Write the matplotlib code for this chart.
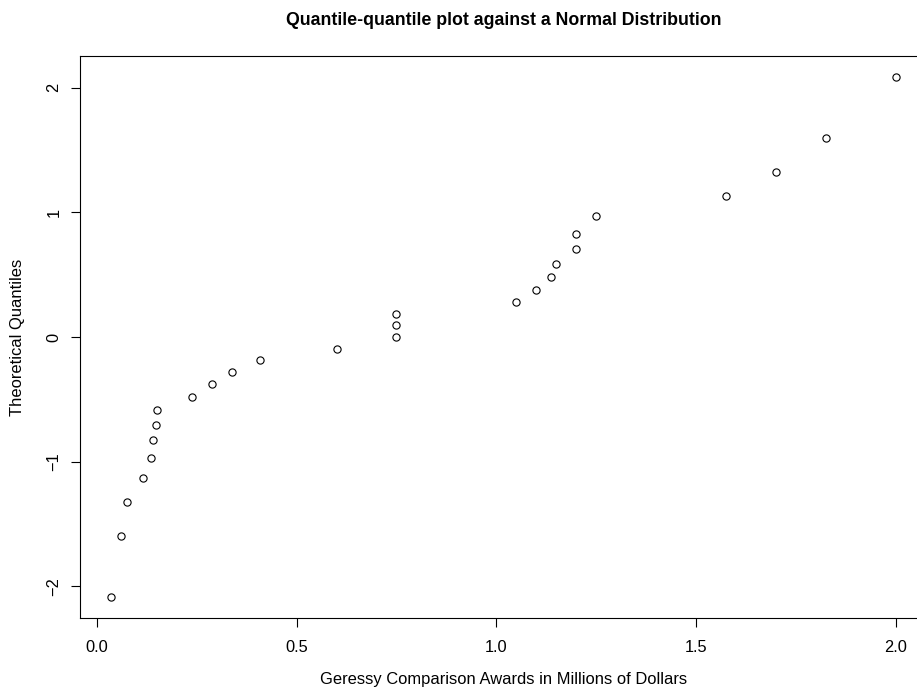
import numpy as np
import matplotlib
matplotlib.use("Agg")
import matplotlib.pyplot as plt

# award amounts (millions of dollars), sorted
awards = [0.036, 0.059, 0.075, 0.114, 0.134, 0.139, 0.149, 0.150, 0.238,
          0.289, 0.339, 0.409, 0.600, 0.750, 0.750, 0.750, 1.050, 1.100,
          1.138, 1.150, 1.200, 1.200, 1.250, 1.575, 1.700, 1.825, 2.000]

# theoretical normal quantiles matching each sorted award
theoretical = [-2.086, -1.593, -1.325, -1.128, -0.967, -0.828, -0.704, -0.589,
               -0.482, -0.380, -0.282, -0.187, -0.093, 0.000, 0.093, 0.187,
               0.282, 0.380, 0.482, 0.589, 0.704, 0.828, 0.967, 1.128,
               1.325, 1.593, 2.086]

x_ticks = [0.0, 0.5, 1.0, 1.5, 2.0]
y_ticks = [-2, -1, 0, 1, 2]

plt.rcParams['font.family'] = ['Liberation Sans', 'DejaVu Sans']

fig = plt.figure(figsize=(9.17, 6.89), dpi=100)
W, H = 917.0, 689.0
ax = fig.add_axes([80 / W, (H - 618) / H, (927 - 80) / W, (618 - 56) / H])

ax.plot(awards, theoretical, 'o', mfc='none', mec='black', ms=5.2, mew=0.8)

# R style 4% padding around the data range
xr = max(awards) - min(awards)
yr = max(theoretical) - min(theoretical)
ax.set_xlim(min(awards) - 0.04 * xr, max(awards) + 0.04 * xr)
ax.set_ylim(min(theoretical) - 0.04 * yr, max(theoretical) + 0.04 * yr)

ax.set_xticks(x_ticks)
ax.set_xticklabels(['%.1f' % t for t in x_ticks])
ax.set_yticks(y_ticks)
ax.set_yticklabels(['\u2212%d' % -t if t < 0 else '%d' % t for t in y_ticks],
                   rotation=90, va='center')
ax.tick_params(direction='out', length=6.5, width=0.8, labelsize=11.8,
               color='black')
ax.tick_params(axis='x', pad=9)
ax.tick_params(axis='y', pad=7)
for s in ax.spines.values():
    s.set_linewidth(0.8)
    s.set_color('black')

fig.text(503.5 / W, 1 - 20.5 / H, 'Quantile-quantile plot against a Normal Distribution',
         ha='center', va='center', fontsize=12.8, fontweight='bold')
fig.text(503.5 / W, 1 - 679.5 / H, 'Geressy Comparison Awards in Millions of Dollars',
         ha='center', va='center', fontsize=11.9)
fig.text(18 / W, 1 - 337 / H, 'Theoretical Quantiles', rotation=90,
         ha='center', va='center', fontsize=11.9)

fig.savefig('out.png', dpi=100)
